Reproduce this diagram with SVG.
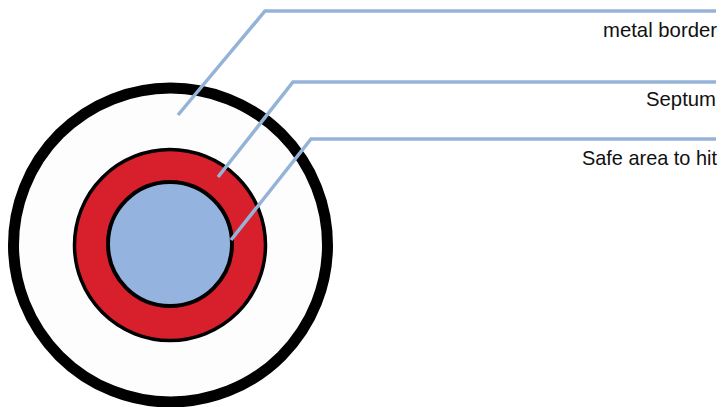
<svg xmlns="http://www.w3.org/2000/svg" width="725" height="407" viewBox="0 0 725 407">
<style>
.lbl{font-family:"Liberation Sans",Arial,sans-serif;font-size:21px;fill:#111;text-anchor:end}
.lead{fill:none;stroke:#95B3D7;stroke-width:3.5}
</style>
<rect width="725" height="407" fill="#fff"/>
<g id="metal-border"><circle cx="170.5" cy="245" r="157" fill="#FDFDFD" stroke="#000" stroke-width="11"/></g>
<g id="septum"><circle cx="170" cy="245" r="95.5" fill="#D7202B" stroke="#000" stroke-width="3.5"/></g>
<g id="safe-area"><circle cx="170" cy="244" r="62" fill="#95B3DF" stroke="#000" stroke-width="4"/></g>
<g id="connectors">
<polyline class="lead" points="178,115 265,11 716,11"/>
<polyline class="lead" points="218,177 293,82 716,82"/>
<polyline class="lead" points="231,240 311,139 716,139"/>
</g>
<g id="labels">
<text class="lbl" x="717" y="37" textLength="114" lengthAdjust="spacingAndGlyphs">metal border</text>
<text class="lbl" x="716" y="106" textLength="70" lengthAdjust="spacingAndGlyphs">Septum</text>
<text class="lbl" x="717" y="165" textLength="135" lengthAdjust="spacingAndGlyphs">Safe area to hit</text>
</g>
</svg>
